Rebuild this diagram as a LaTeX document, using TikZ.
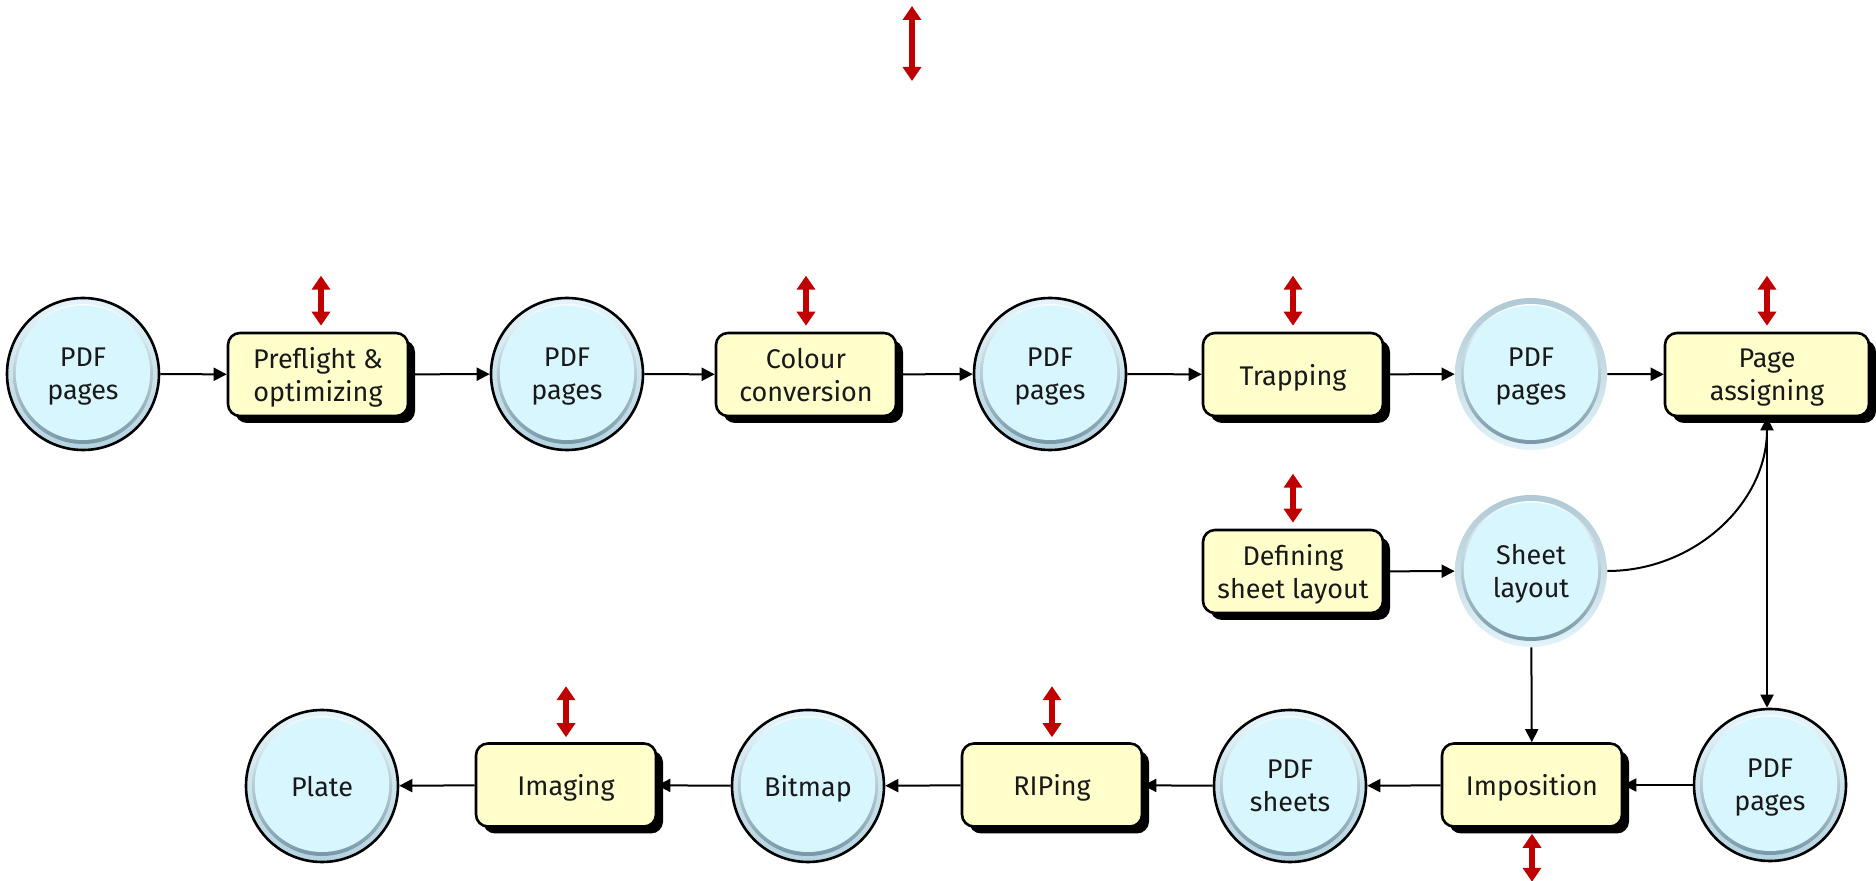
\documentclass[tikz,border=0pt]{standalone}
\usepackage{fontspec}
\setmainfont{Fira Sans}
\usetikzlibrary{arrows.meta,shadows}
\definecolor{boxfill}{HTML}{FFFFCC}
\definecolor{discfill}{HTML}{D8F6FD}
\definecolor{ringtop}{HTML}{E4F4FA}
\definecolor{ringbot}{HTML}{B4D3E0}
\definecolor{ringtopB}{HTML}{AFC9D5}
\definecolor{ringbotB}{HTML}{E2F3F9}
\definecolor{discedgetop}{HTML}{F6FDFF}
\definecolor{discedgebot}{HTML}{7898A7}
\definecolor{redarr}{HTML}{C00000}
\newcommand{\dgfont}{\fontsize{13.5}{16.5}\selectfont}
\def\rtop{ringtop}\def\rbot{ringbot}
\tikzset{
  proc/.style={rectangle, rounded corners=6pt, draw=black, line width=1.3pt,
    fill=boxfill, minimum width=90pt, minimum height=41.5pt, align=center,
    font=\dgfont, text=black!90, text depth=0pt,
    drop shadow={shadow xshift=3.5pt, shadow yshift=-3.5pt, fill=black, opacity=1}},
  store/.style={circle, minimum size=76pt, inner sep=0pt, align=center,
    font=\dgfont, text=black!90, text depth=0pt,
    path picture={
      \shade[top color=\rtop, bottom color=\rbot]
        (path picture bounding box.south west) rectangle (path picture bounding box.north east);
      \shade[top color=discedgetop, bottom color=discedgebot]
        (path picture bounding box.center) circle (35pt);
      \fill[discfill] ([yshift=0.6pt]path picture bounding box.center) circle (33.6pt);
    }},
  bordered/.style={draw=black, line width=1.3pt},
  plainring/.style={/utils/exec={\def\rtop{ringtopB}\def\rbot{ringbotB}}},
  flow/.style={-{Triangle[width=6.5pt,length=6.5pt]}, line width=1pt},
  updown/.style={{Triangle[width=9pt,length=7pt]}-{Triangle[width=9pt,length=7pt]},
    line width=2.6pt, draw=redarr},
}
\begin{document}
\begin{tikzpicture}[x=0.5pt,y=-0.5pt]
\fill[white] (0,0) rectangle (1876,881);
\useasboundingbox (0,0) rectangle (1876,881);

% row 1
\node[store,bordered] (c1) at (83,374) {PDF\\pages};
\node[proc] (b1) at (318,374.5) {Preflight \&\\optimizing};
\node[store,bordered] (c2) at (567,374) {PDF\\pages};
\node[proc] (b2) at (806,374.5) {Colour\\conversion};
\node[store,bordered] (c3) at (1050,374) {PDF\\pages};
\node[proc] (b3) at (1293,374.5) {Trapping};
\node[store,plainring] (c4) at (1531,374) {PDF\\pages};
\node[proc,minimum width=102pt] (b4) at (1767,374.5) {Page\\assigning};

% row 2
\node[proc] (b5) at (1293,571.5) {Defining\\sheet layout};
\node[store,plainring] (c5) at (1531,571) {Sheet\\layout};

% row 3
\node[store,bordered] (c9) at (322,786) {Plate};
\node[proc] (b8) at (566,785) {Imaging};
\node[store,bordered] (c8) at (808,786) {Bitmap};
\node[proc] (b7) at (1052,785) {RIPing};
\node[store,bordered] (c7) at (1290,786) {PDF\\sheets};
\node[proc] (b6) at (1532,785) {Imposition};
\node[store,bordered] (c6) at (1770,785) {PDF\\pages};

% flows
\draw[flow] (c1) -- (b1);
\draw[flow] (b1) -- (c2);
\draw[flow] (c2) -- (b2);
\draw[flow] (b2) -- (c3);
\draw[flow] (c3) -- (b3);
\draw[flow] (b3) -- (c4);
\draw[flow] (c4) -- (b4);
\draw[flow] (b5) -- (c5);
\draw[flow] (c5.east) to[out=0,in=-90] (b4.south);
\draw[flow] (b4.south) -- (b4.south |- c6.north);
\draw[flow] (c5) -- (b6);
\draw[flow] (c6) -- (b6);
\draw[flow] (b6) -- (c7);
\draw[flow] (c7) -- (b7);
\draw[flow] (b7) -- (c8);
\draw[flow] (c8) -- (b8);
\draw[flow] (b8) -- (c9);

% red double arrows
\coordinate (topA) at (912,6);
\coordinate (topB) at (912,81);
\draw[updown] (topA) -- (topB);
\draw[updown] ([xshift=1.5pt,yshift=3pt]b1.north) -- ([xshift=1.5pt,yshift=28pt]b1.north);
\draw[updown] ([yshift=3pt]b2.north) -- ([yshift=28pt]b2.north);
\draw[updown] ([yshift=3pt]b3.north) -- ([yshift=28pt]b3.north);
\draw[updown] ([yshift=3pt]b4.north) -- ([yshift=28pt]b4.north);
\draw[updown] ([yshift=3pt]b5.north) -- ([yshift=27.5pt]b5.north);
\draw[updown] ([yshift=2.5pt]b8.north) -- ([yshift=28pt]b8.north);
\draw[updown] ([yshift=2.5pt]b7.north) -- ([yshift=28pt]b7.north);
\draw[updown] ([yshift=-3pt]b6.south) -- ([yshift=-27pt]b6.south);
\end{tikzpicture}
\end{document}
